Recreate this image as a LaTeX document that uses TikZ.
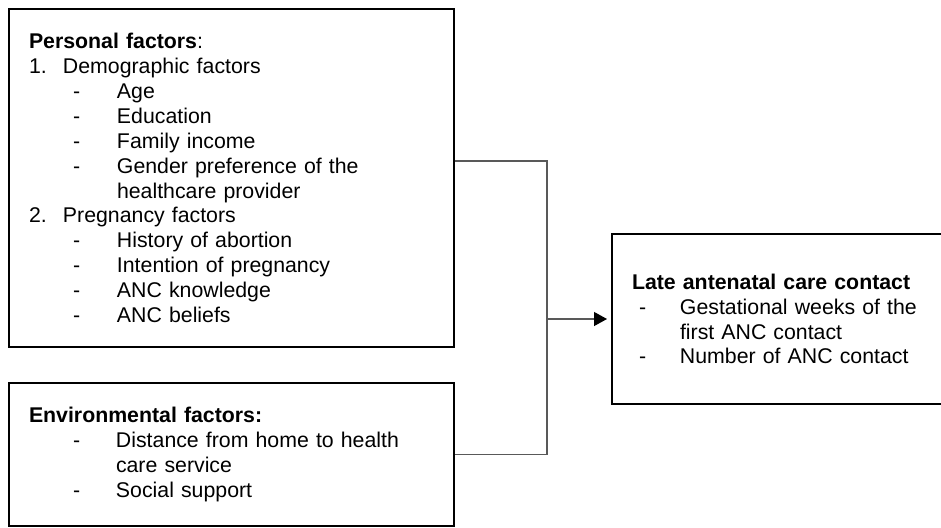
\documentclass[tikz,border=0pt]{standalone}
\usepackage{fontspec}
\setmainfont{Liberation Sans}
\usetikzlibrary{arrows.meta}
\newcommand{\numline}[2]{\makebox[34pt][l]{#1}#2}
\newcommand{\dashline}[3]{\hspace*{#1}\makebox[#2][l]{-}#3}
\tikzset{
  box/.style={draw=black,line width=2pt,rectangle,align=left,inner xsep=20pt,
    inner ysep=0pt,font=\fontsize{21.3}{24.9}\selectfont},
  link/.style={draw=black!65,line width=1.2pt}
}
\begin{document}
\begin{tikzpicture}[x=1pt,y=-1pt]
      \useasboundingbox (0,0) rectangle (941,527);
      \clip (0,0) rectangle (941,527);
      \node[box,text width=405pt,minimum height=338pt] (pers) at (231.5,178)
        {\textbf{Personal factors}:\\
         \numline{1.}{Demographic factors}\\
         \dashline{44pt}{44pt}{Age}\\
         \dashline{44pt}{44pt}{Education}\\
         \dashline{44pt}{44pt}{Family income}\\
         \dashline{44pt}{44pt}{Gender preference of the}\\
         \hspace*{88pt}healthcare provider\\
         \numline{2.}{Pregnancy factors}\\
         \dashline{44pt}{44pt}{History of abortion}\\
         \dashline{44pt}{44pt}{Intention of pregnancy}\\
         \dashline{44pt}{44pt}{ANC knowledge}\\
         \dashline{44pt}{44pt}{ANC beliefs}};
      \node[box,text width=405pt,minimum height=143pt] (env) at (231.5,454.5)
        {\textbf{Environmental factors:}\\
         \dashline{44pt}{43pt}{Distance from home to health}\\
         \hspace*{87pt}care service\\
         \dashline{44pt}{43pt}{Social support}};
      \node[box,text width=300pt,minimum height=170pt] (late) at (782,319)
        {\textbf{Late antenatal care contact}\\
         \dashline{7pt}{41pt}{Gestational weeks of the}\\
         \hspace*{48pt}first ANC contact\\
         \dashline{7pt}{41pt}{Number of ANC contact}};
      % joining line
      \coordinate (join) at (547,319);
      \draw[link] ([yshift=17pt]pers.east) -| (join) |- (env.east);
      \draw[link,-{Triangle[length=13pt,width=14pt,color=black]},shorten >=4pt] (join) -- (late.west);
    \end{tikzpicture}
\end{document}
